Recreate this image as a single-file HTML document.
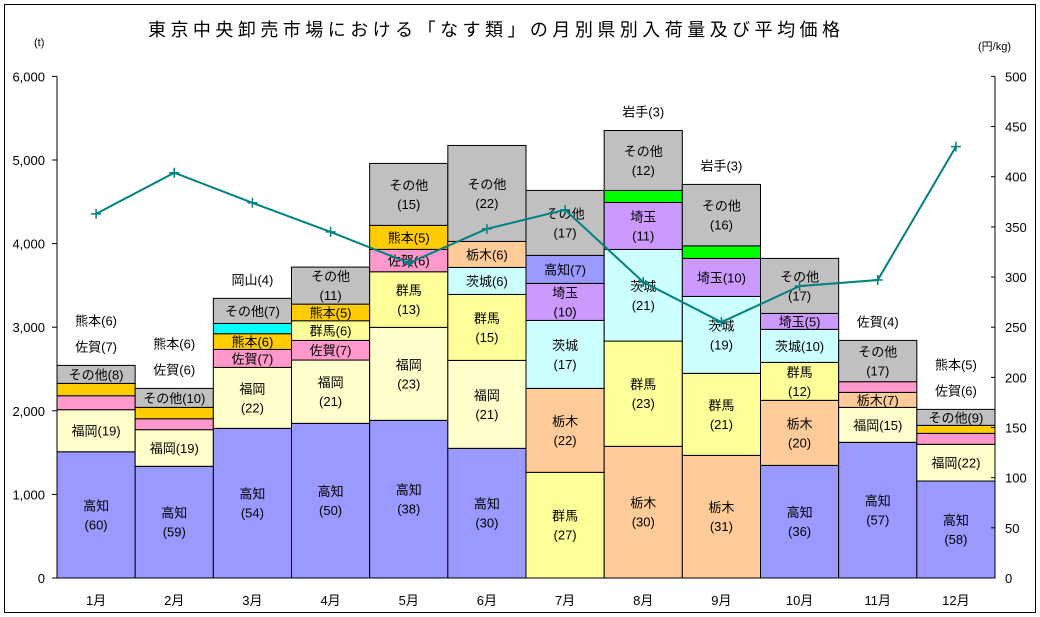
<!DOCTYPE html>
<html><head><meta charset="utf-8">
<style>
html,body{margin:0;padding:0;background:#fff;}
svg{display:block;font-family:"Liberation Sans","Noto Sans CJK JP",sans-serif;}
</style></head>
<body>
<svg id="chart" width="1040" height="617" viewBox="0 0 1040 617" xmlns="http://www.w3.org/2000/svg">
<rect x="4.5" y="4.5" width="1031" height="608" fill="#fff" stroke="#000" stroke-width="1"/>
<text x="148" y="36" font-size="18" textLength="692" lengthAdjust="spacing">東京中央卸売市場における「なす類」の月別県別入荷量及び平均価格</text>
<text x="34" y="46" font-size="11">(t)</text>
<text x="978" y="50" font-size="11">(円/kg)</text>
<g id="bars"></g>
<g id="axes"></g>
<g id="line"></g>
</svg>
<script>
const months = ["1月","2月","3月","4月","5月","6月","7月","8月","9月","10月","11月","12月"];
const segNames = [
 ["高知","福岡","佐賀","熊本","その他"],
 ["高知","福岡","佐賀","熊本","その他"],
 ["高知","福岡","佐賀","熊本","岡山","その他"],
 ["高知","福岡","佐賀","群馬","熊本","その他"],
 ["高知","福岡","群馬","佐賀","熊本","その他"],
 ["高知","福岡","群馬","茨城","栃木","その他"],
 ["群馬","栃木","茨城","埼玉","高知","その他"],
 ["栃木","群馬","茨城","埼玉","岩手","その他"],
 ["栃木","群馬","茨城","埼玉","岩手","その他"],
 ["高知","栃木","群馬","茨城","埼玉","その他"],
 ["高知","福岡","栃木","佐賀","その他"],
 ["高知","福岡","佐賀","熊本","その他"]
];
const segValues = [
 [1510,503,167,148,215],
 [1336,438,131,136,227],
 [1790,729,215,188,123,300],
 [1850,757,235,235,199,443],
 [1886,1112,665,268,287,741],
 [1551,1052,789,323,311,1148],
 [1264,1004,813,443,335,777],
 [1575,1259,1096,562,144,717],
 [1467,981,920,455,150,735],
 [1347,778,454,395,191,658],
 [1623,418,179,128,494],
 [1160,439,131,96,191]
];
const segLabels = [
 ["高知|(60)","福岡(19)","","","その他(8)"],
 ["高知|(59)","福岡(19)","","","その他(10)"],
 ["高知|(54)","福岡|(22)","佐賀(7)","熊本(6)","","その他(7)"],
 ["高知|(50)","福岡|(21)","佐賀(7)","群馬(6)","熊本(5)","その他|(11)"],
 ["高知|(38)","福岡|(23)","群馬|(13)","佐賀(6)","熊本(5)","その他|(15)"],
 ["高知|(30)","福岡|(21)","群馬|(15)","茨城(6)","栃木(6)","その他|(22)"],
 ["群馬|(27)","栃木|(22)","茨城|(17)","埼玉|(10)","高知(7)","その他|(17)"],
 ["栃木|(30)","群馬|(23)","茨城|(21)","埼玉|(11)","","その他|(12)"],
 ["栃木|(31)","群馬|(21)","茨城|(19)","埼玉(10)","","その他|(16)"],
 ["高知|(36)","栃木|(20)","群馬|(12)","茨城(10)","埼玉(5)","その他|(17)"],
 ["高知|(57)","福岡(15)","栃木(7)","","その他|(17)"],
 ["高知|(58)","福岡(22)","","","その他(9)"]
];
const outsideLabels = [
 ["佐賀(7)","熊本(6)"],["佐賀(6)","熊本(6)"],["岡山(4)"],[],[],[],[],["岩手(3)"],["岩手(3)"],[],["佐賀(4)"],["佐賀(6)","熊本(5)"]
];
const prices = [363,404,374,345,314,348,367,295,255,291,297,430];
const leftTicks = [0,1000,2000,3000,4000,5000,6000];
const leftTickLabels = ["0","1,000","2,000","3,000","4,000","5,000","6,000"];
const rightTicks = [0,50,100,150,200,250,300,350,400,450,500];

const colors = {"高知":"#9999FF","福岡":"#FFFFCC","群馬":"#FFFF99","栃木":"#FFCC99","茨城":"#CCFFFF","埼玉":"#CC99FF","佐賀":"#FF99CC","熊本":"#FFCC00","その他":"#C0C0C0","岡山":"#00FFFF","岩手":"#00FF00"};
const slug = {"高知":"kochi","福岡":"fukuoka","群馬":"gunma","栃木":"tochigi","茨城":"ibaraki","埼玉":"saitama","佐賀":"saga","熊本":"kumamoto","その他":"other","岡山":"okayama","岩手":"iwate"};
const NS="http://www.w3.org/2000/svg";
const X0=57, X1=995, Y0=578, YT=76.4;
const bw=(X1-X0)/months.length;
const yL=v=>Y0-(v/6000)*(Y0-YT);
const yR=v=>Y0-(v/500)*(Y0-YT);
const xC=i=>X0+bw*(i+0.5);
function mk(tag,attrs,parent){const e=document.createElementNS(NS,tag);for(const k in attrs)e.setAttribute(k,attrs[k]);parent.appendChild(e);return e;}
function txt(parent,x,y,s,anchor){const t=mk("text",{x:x,y:y,"font-size":13,"text-anchor":anchor||"middle"},parent);t.textContent=s;return t;}

const gb=document.getElementById("bars");
months.forEach((m,i)=>{
  let cum=0;
  const x=X0+bw*i;
  segNames[i].forEach((n,j)=>{
    const v=segValues[i][j];
    const yt=yL(cum+v), yb=yL(cum);
    const r=mk("rect",{x:x,y:yt,width:bw,height:yb-yt,fill:colors[n],stroke:"#000","stroke-width":1},gb);
    
    
    const lab=segLabels[i][j];
    if(lab){
      const parts=lab.split("|");
      const cy=(yt+yb)/2;
      parts.forEach((p,k)=>{
        const t=txt(gb,xC(i),cy+5+(k-(parts.length-1)/2)*19,p);
        
        
      });
    }
    cum+=v;
  });
  const top=yL(cum);
  outsideLabels[i].forEach((p,k)=>{
    const t=txt(gb,xC(i),top-14-k*26,p);
    
    
  });
});

const ga=document.getElementById("axes");
mk("line",{x1:X0,y1:YT,x2:X0,y2:Y0,stroke:"#000"},ga);
mk("line",{x1:X1,y1:YT,x2:X1,y2:Y0,stroke:"#000"},ga);
mk("line",{x1:X0,y1:Y0,x2:X1,y2:Y0,stroke:"#000"},ga);
leftTicks.forEach((v,k)=>{
  mk("line",{x1:X0-5,y1:yL(v),x2:X0,y2:yL(v),stroke:"#000"},ga);
  const t=txt(ga,45,yL(v)+5,leftTickLabels[k],"end");
  
  
});
rightTicks.forEach(v=>{
  mk("line",{x1:X1-4,y1:yR(v),x2:X1,y2:yR(v),stroke:"#000"},ga);
  const t=txt(ga,1005,yR(v)+5,String(v),"start");
  
  
});
months.forEach((m,i)=>{
  const t=txt(ga,xC(i),605,m);
  
  
});

const gl=document.getElementById("line");
const pts=prices.map((p,i)=>xC(i)+","+yR(p)).join(" ");
const pl=mk("polyline",{points:pts,fill:"none",stroke:"#008080","stroke-width":2},gl);


prices.forEach((p,i)=>{
  const x=xC(i),y=yR(p);
  const mkr=mk("path",{d:`M${x-5},${y}H${x+5}M${x},${y-5}V${y+5}`,stroke:"#008080","stroke-width":1.5},gl);
  
  
});
</script>
</body></html>
